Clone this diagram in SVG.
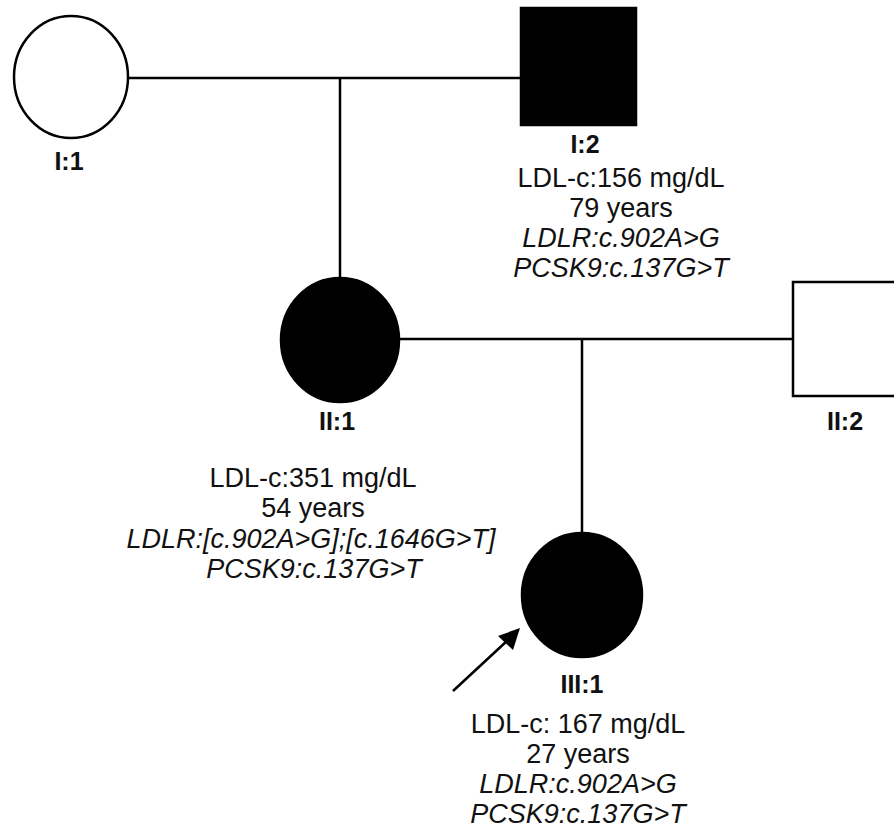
<svg xmlns="http://www.w3.org/2000/svg" width="894" height="833" viewBox="0 0 894 833">
<defs>
<style>
.ln{stroke:#000;stroke-width:2.5;fill:none}
.un{fill:#fff;stroke:#000;stroke-width:2.5}
.af{fill:#000;stroke:#000;stroke-width:2.5}
.lb{font-family:"Liberation Sans",Arial,sans-serif;font-weight:bold;font-size:25px;text-anchor:middle;fill:#111}
.tx{font-family:"Liberation Sans",Arial,sans-serif;font-size:27px;text-anchor:middle;fill:#111}
.it{font-style:italic}
</style>
</defs>
<rect width="894" height="833" fill="#fff"/>
<g id="connectors">
<line class="ln" x1="128" y1="78" x2="521" y2="78"/>
<line class="ln" x1="340" y1="78" x2="340" y2="279"/>
<line class="ln" x1="400" y1="339" x2="793" y2="339"/>
<line class="ln" x1="582" y1="339" x2="582" y2="534"/>
<line class="ln" x1="453" y1="691" x2="508" y2="640"/>
<polygon points="520,628 498,636 513,650" fill="#000"/>
</g>
<g id="I1">
<ellipse class="un" cx="71" cy="77" rx="57" ry="61"/>
<text class="lb" x="69" y="170">I:1</text>
</g>
<g id="I2">
<rect class="af" x="521" y="8" width="115" height="117"/>
<text class="lb" x="585" y="153">I:2</text>
<text class="tx" x="621" y="187">LDL-c:156 mg/dL</text>
<text class="tx" x="621" y="217">79 years</text>
<text class="tx it" x="621" y="247">LDLR:c.902A&gt;G</text>
<text class="tx it" x="621" y="277">PCSK9:c.137G&gt;T</text>
</g>
<g id="II1">
<ellipse class="af" cx="340" cy="340" rx="59" ry="62"/>
<text class="lb" x="337" y="430">II:1</text>
<text class="tx" x="313" y="487">LDL-c:351 mg/dL</text>
<text class="tx" x="313" y="517">54 years</text>
<text class="tx it" x="311" y="548">LDLR:[c.902A&gt;G];[c.1646G&gt;T]</text>
<text class="tx it" x="314" y="578">PCSK9:c.137G&gt;T</text>
</g>
<g id="II2">
<rect class="un" x="793" y="282" width="115" height="114"/>
<text class="lb" x="845" y="430">II:2</text>
</g>
<g id="III1">
<ellipse class="af" cx="582" cy="595" rx="60" ry="62"/>
<text class="lb" x="582" y="693">III:1</text>
<text class="tx" x="578" y="733">LDL-c: 167 mg/dL</text>
<text class="tx" x="578" y="763">27 years</text>
<text class="tx it" x="578" y="793">LDLR:c.902A&gt;G</text>
<text class="tx it" x="578" y="823">PCSK9:c.137G&gt;T</text>
</g>
</svg>
